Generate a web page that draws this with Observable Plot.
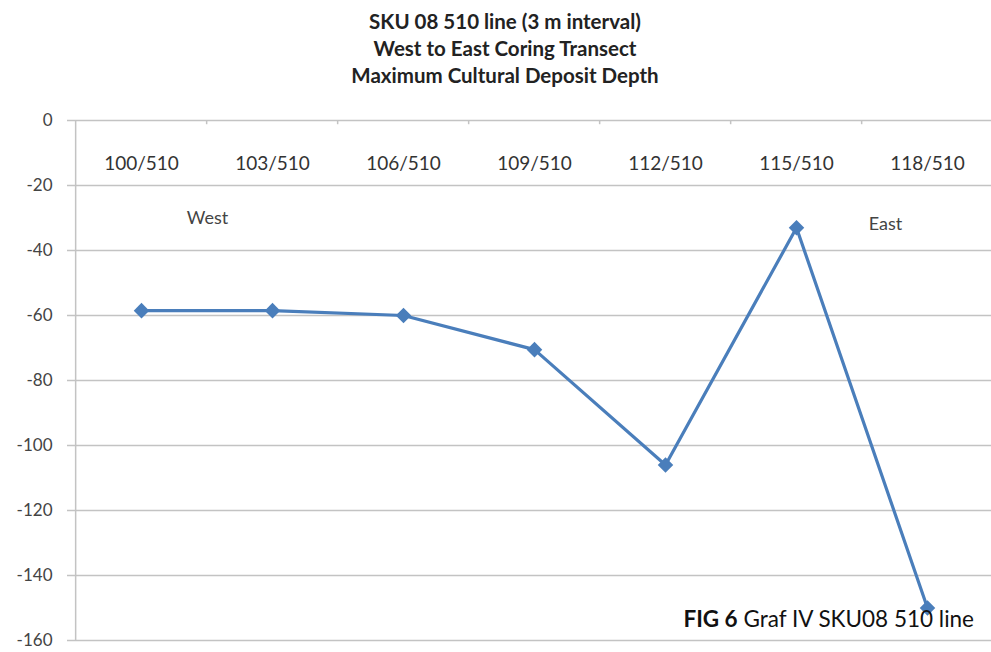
<!DOCTYPE html>
<html><head><meta charset="utf-8">
<script src="https://cdn.jsdelivr.net/npm/d3@7"></script>
<script src="https://cdn.jsdelivr.net/npm/@observablehq/plot@0.6"></script>
<style>
body{margin:0;background:#fff;}
#wrap{position:relative;width:991px;height:652px;overflow:hidden;font-family:Lato,sans-serif;}
#chart{position:absolute;left:0;top:0;}
#title{position:absolute;top:8px;left:0;width:1010px;text-align:center;font-weight:bold;font-size:20.5px;line-height:27px;color:#222;}
#caption{position:absolute;right:17px;top:606px;font-size:22.5px;line-height:26px;color:#111;}
</style></head><body>
<div id="wrap">
<div id="chart"></div>
<div id="title">SKU 08 510 line (3 m interval)<br>West to East Coring Transect<br>Maximum Cultural Deposit Depth</div>
<div id="caption"><b>FIG 6</b> Graf IV SKU08 510 line</div>
</div>
<script>
const categories = ["100/510","103/510","106/510","109/510","112/510","115/510","118/510"];
const depths = [-58.5,-58.5,-60,-70.5,-106,-33,-150];
const yTicks = [0,-20,-40,-60,-80,-100,-120,-140,-160];
const annotationLabels = ["West","East"];
const annotationCategories = ["100/510","118/510"];
const annotationValues = [-30,-32];

const data = categories.map((c,i)=>({cat:c, v:depths[i]}));
const notes = annotationLabels.map((l,i)=>({label:l, cat:annotationCategories[i], v:annotationValues[i]}));
const xRange = [73, 995];
const step = (xRange[1]-xRange[0])/categories.length;
const gridColor = "#c3c3c3";
const blue = "#4a7ebb";

const chart = Plot.plot({
  width: 991, height: 652,
  marginTop: 120, marginBottom: 12, marginLeft: 73, marginRight: 0,
  style: {fontFamily: "Lato, sans-serif", background: "#fff"},
  x: {type: "point", domain: categories, range: xRange, padding: 0.5, axis: null},
  y: {domain: [-160, 0], axis: null},
  marks: [
    Plot.ruleY(yTicks, {stroke: gridColor, strokeWidth: 1.5}),
    Plot.axisY(yTicks, {tickSize: 6, tickPadding: 15, fontSize: 17, fill: "#444", stroke: gridColor, strokeWidth: 1.5, label: null, tickFormat: d => String(d)}),
    Plot.ruleX([categories[0]], {dx: -step/2, stroke: gridColor, strokeWidth: 1.5}),
    Plot.ruleX(categories.slice(1), {dx: -step/2, y1: 0, y2: -1.3, stroke: gridColor, strokeWidth: 1.5}),
    Plot.text(categories, {x: d => d, frameAnchor: "top", dy: 36, fontSize: 19, fill: "#333"}),
    Plot.text(notes.slice(0,1), {x: "cat", y: "v", text: "label", dx: 66, fontSize: 18, fill: "#444"}),
    Plot.text(notes.slice(1), {x: "cat", y: "v", text: "label", dx: -42, fontSize: 18, fill: "#444"}),
    Plot.line(data, {x: "cat", y: "v", stroke: blue, strokeWidth: 3.2}),
    Plot.dot(data, {x: "cat", y: "v", symbol: "diamond2", r: 7, fill: blue, stroke: "none"})
  ]
});
document.getElementById("chart").appendChild(chart);
</script>
</body></html>
